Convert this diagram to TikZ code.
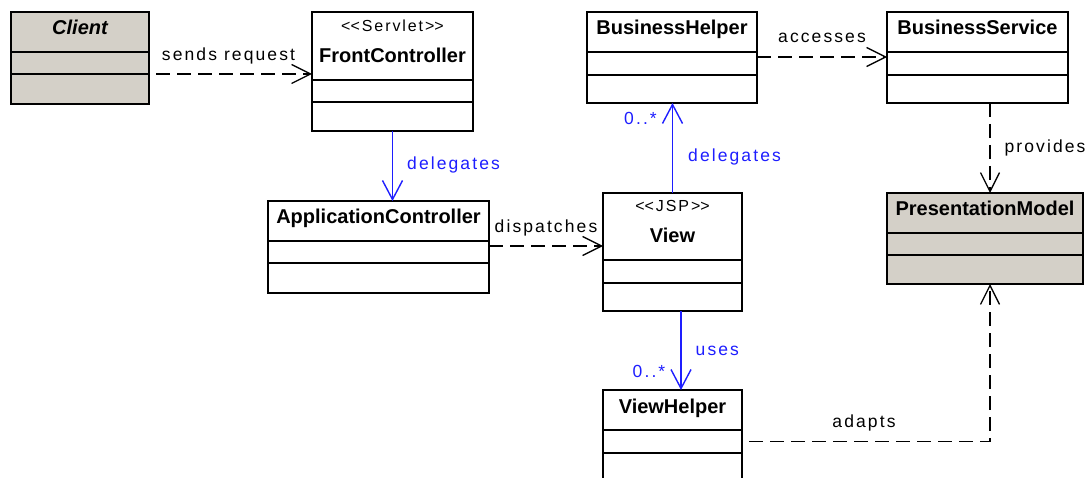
\documentclass[tikz,border=0pt]{standalone}
\usepackage{fontspec}
\setmainfont{Liberation Sans}
\newfontfamily\lblfont{Liberation Sans}[LetterSpace=12]
\usetikzlibrary{positioning,arrows.meta}
\definecolor{umlgray}{RGB}{212,208,200}
\definecolor{umlblue}{RGB}{30,30,255}
\tikzstyle{comp}=[draw, line width=1.3pt, fill=white, inner sep=0pt, outer sep=0pt]
\tikzstyle{shaded}=[comp, fill=umlgray]
\tikzstyle{cname}=[font=\fontsize{20}{24}\selectfont\bfseries, anchor=base, inner sep=0pt]
\tikzstyle{stereo}=[font=\lblfont\fontsize{16}{19}\selectfont, anchor=base, inner sep=0pt]
\tikzstyle{lbl}=[font=\lblfont\fontsize{17.5}{21}\selectfont, inner sep=0pt]
\tikzstyle{dep}=[line width=1.3pt, dash pattern=on 14pt off 7pt, -{Straight Barb[length=19pt, width=19pt]}]
\tikzstyle{assoc}=[umlblue, line width=1.4pt, -{Straight Barb[length=19pt, width=20pt]}]

\begin{document}
\begin{tikzpicture}[x=1pt, y=-1pt]
            \useasboundingbox[fill=white] (0,0) rectangle (1086,478);

            \node[shaded, minimum width=138pt, minimum height=40pt, anchor=north west] (client) at (11,12) {};
            \node[shaded, minimum width=138pt, minimum height=22pt, below=0pt of client] (client-attr) {};
            \node[shaded, minimum width=138pt, minimum height=30pt, below=0pt of client-attr] (client-ops) {};
            \node[cname] (client-t) at ([yshift=17pt]client.south) {\itshape Client};

            \node[comp, minimum width=161pt, minimum height=68pt, anchor=north west] (fc) at (312,12) {};
            \node[comp, minimum width=161pt, minimum height=22pt, below=0pt of fc] (fc-attr) {};
            \node[comp, minimum width=161pt, minimum height=29pt, below=0pt of fc-attr] (fc-ops) {};
            \node[stereo] (fc-s) at ([yshift=48pt]fc.south) {<\kern0pt<Servlet>\kern0pt>};
            \node[cname] (fc-t) at ([yshift=17pt]fc.south) {FrontController};

            \node[comp, minimum width=170pt, minimum height=40pt, anchor=north west] (bh) at (587,12) {};
            \node[comp, minimum width=170pt, minimum height=23pt, below=0pt of bh] (bh-attr) {};
            \node[comp, minimum width=170pt, minimum height=28pt, below=0pt of bh-attr] (bh-ops) {};
            \node[cname] (bh-t) at ([yshift=17pt]bh.south) {BusinessHelper};

            \node[comp, minimum width=181pt, minimum height=40pt, anchor=north west] (bs) at (887,12) {};
            \node[comp, minimum width=181pt, minimum height=23pt, below=0pt of bs] (bs-attr) {};
            \node[comp, minimum width=181pt, minimum height=28pt, below=0pt of bs-attr] (bs-ops) {};
            \node[cname] (bs-t) at ([yshift=17pt]bs.south) {BusinessService};

            \node[comp, minimum width=221pt, minimum height=40pt, anchor=north west] (ac) at (268,201) {};
            \node[comp, minimum width=221pt, minimum height=22pt, below=0pt of ac] (ac-attr) {};
            \node[comp, minimum width=221pt, minimum height=30pt, below=0pt of ac-attr] (ac-ops) {};
            \node[cname] (ac-t) at ([yshift=17pt]ac.south) {ApplicationController};

            \node[comp, minimum width=139pt, minimum height=67pt, anchor=north west] (view) at (603,193) {};
            \node[comp, minimum width=139pt, minimum height=23pt, below=0pt of view] (view-attr) {};
            \node[comp, minimum width=139pt, minimum height=28pt, below=0pt of view-attr] (view-ops) {};
            \node[stereo] (view-s) at ([yshift=48pt]view.south) {<\kern0pt<JSP>\kern0pt>};
            \node[cname] (view-t) at ([yshift=17pt]view.south) {View};

            \node[shaded, minimum width=196pt, minimum height=40pt, anchor=north west] (pm) at (887,193) {};
            \node[shaded, minimum width=196pt, minimum height=22pt, below=0pt of pm] (pm-attr) {};
            \node[shaded, minimum width=196pt, minimum height=29pt, below=0pt of pm-attr] (pm-ops) {};
            \node[cname] (pm-t) at ([yshift=17pt]pm.south) {PresentationModel};

            \node[comp, minimum width=139pt, minimum height=40pt, anchor=north west] (vh) at (603,390) {};
            \node[comp, minimum width=139pt, minimum height=23pt, below=0pt of vh] (vh-attr) {};
            \node[comp, minimum width=139pt, minimum height=45pt, below=0pt of vh-attr] (vh-ops) {};
            \node[cname] (vh-t) at ([yshift=17pt]vh.south) {ViewHelper};

            \coordinate (accy) at ([yshift=-5pt]bh.south east);
            \coordinate (dispy) at ([yshift=-5pt]ac.south east);
            \coordinate (usesx) at (681,0);
            \coordinate (provx) at (990,0);

            \draw[dep, dash phase=14pt] (client-attr.south east) -- (client-attr.south east -| fc.west)
                node[lbl, midway, anchor=base, xshift=-2pt, yshift=13pt] (sends) {sends request};
            \draw[dep] (accy) -- (accy -| bs.west)
                node[lbl, midway, anchor=base, yshift=14pt] (accesses) {accesses};
            \draw[dep] (dispy) -- (dispy -| view.west)
                node[lbl, midway, anchor=base, yshift=13pt] (dispatches) {dispatches};
            \draw[assoc] (fc-ops.south) -- (fc-ops.south |- ac.north)
                node[lbl, midway, anchor=base west, xshift=14pt, yshift=-4pt] (deleg1) {delegates};
            \draw[assoc] (view.north) -- (view.north |- bh-ops.south)
                node[lbl, midway, anchor=base west, xshift=15pt, yshift=-14pt] (deleg2) {delegates}
                node[lbl, pos=1, anchor=base east, xshift=-15pt, yshift=-22pt] (mult1) {0..*};
            \draw[dep] (provx |- bs-ops.south) -- (provx |- pm.north)
                node[lbl, midway, anchor=base west, xshift=14pt, yshift=-5pt] (provides) {provides};
            \draw[assoc] (usesx |- view-ops.south) -- (usesx |- vh.north)
                node[lbl, midway, anchor=base west, xshift=14pt, yshift=-4.5pt] (uses) {uses}
                node[lbl, pos=1, anchor=base east, xshift=-15pt, yshift=13pt] (mult2) {0..*};
            \draw[dep, dash phase=14pt] (vh-attr.east) -| (provx |- pm-ops.south)
                node[lbl, pos=.25, anchor=base, xshift=-2pt, yshift=14pt] (adapts) {adapts};
        \end{tikzpicture}
\end{document}
